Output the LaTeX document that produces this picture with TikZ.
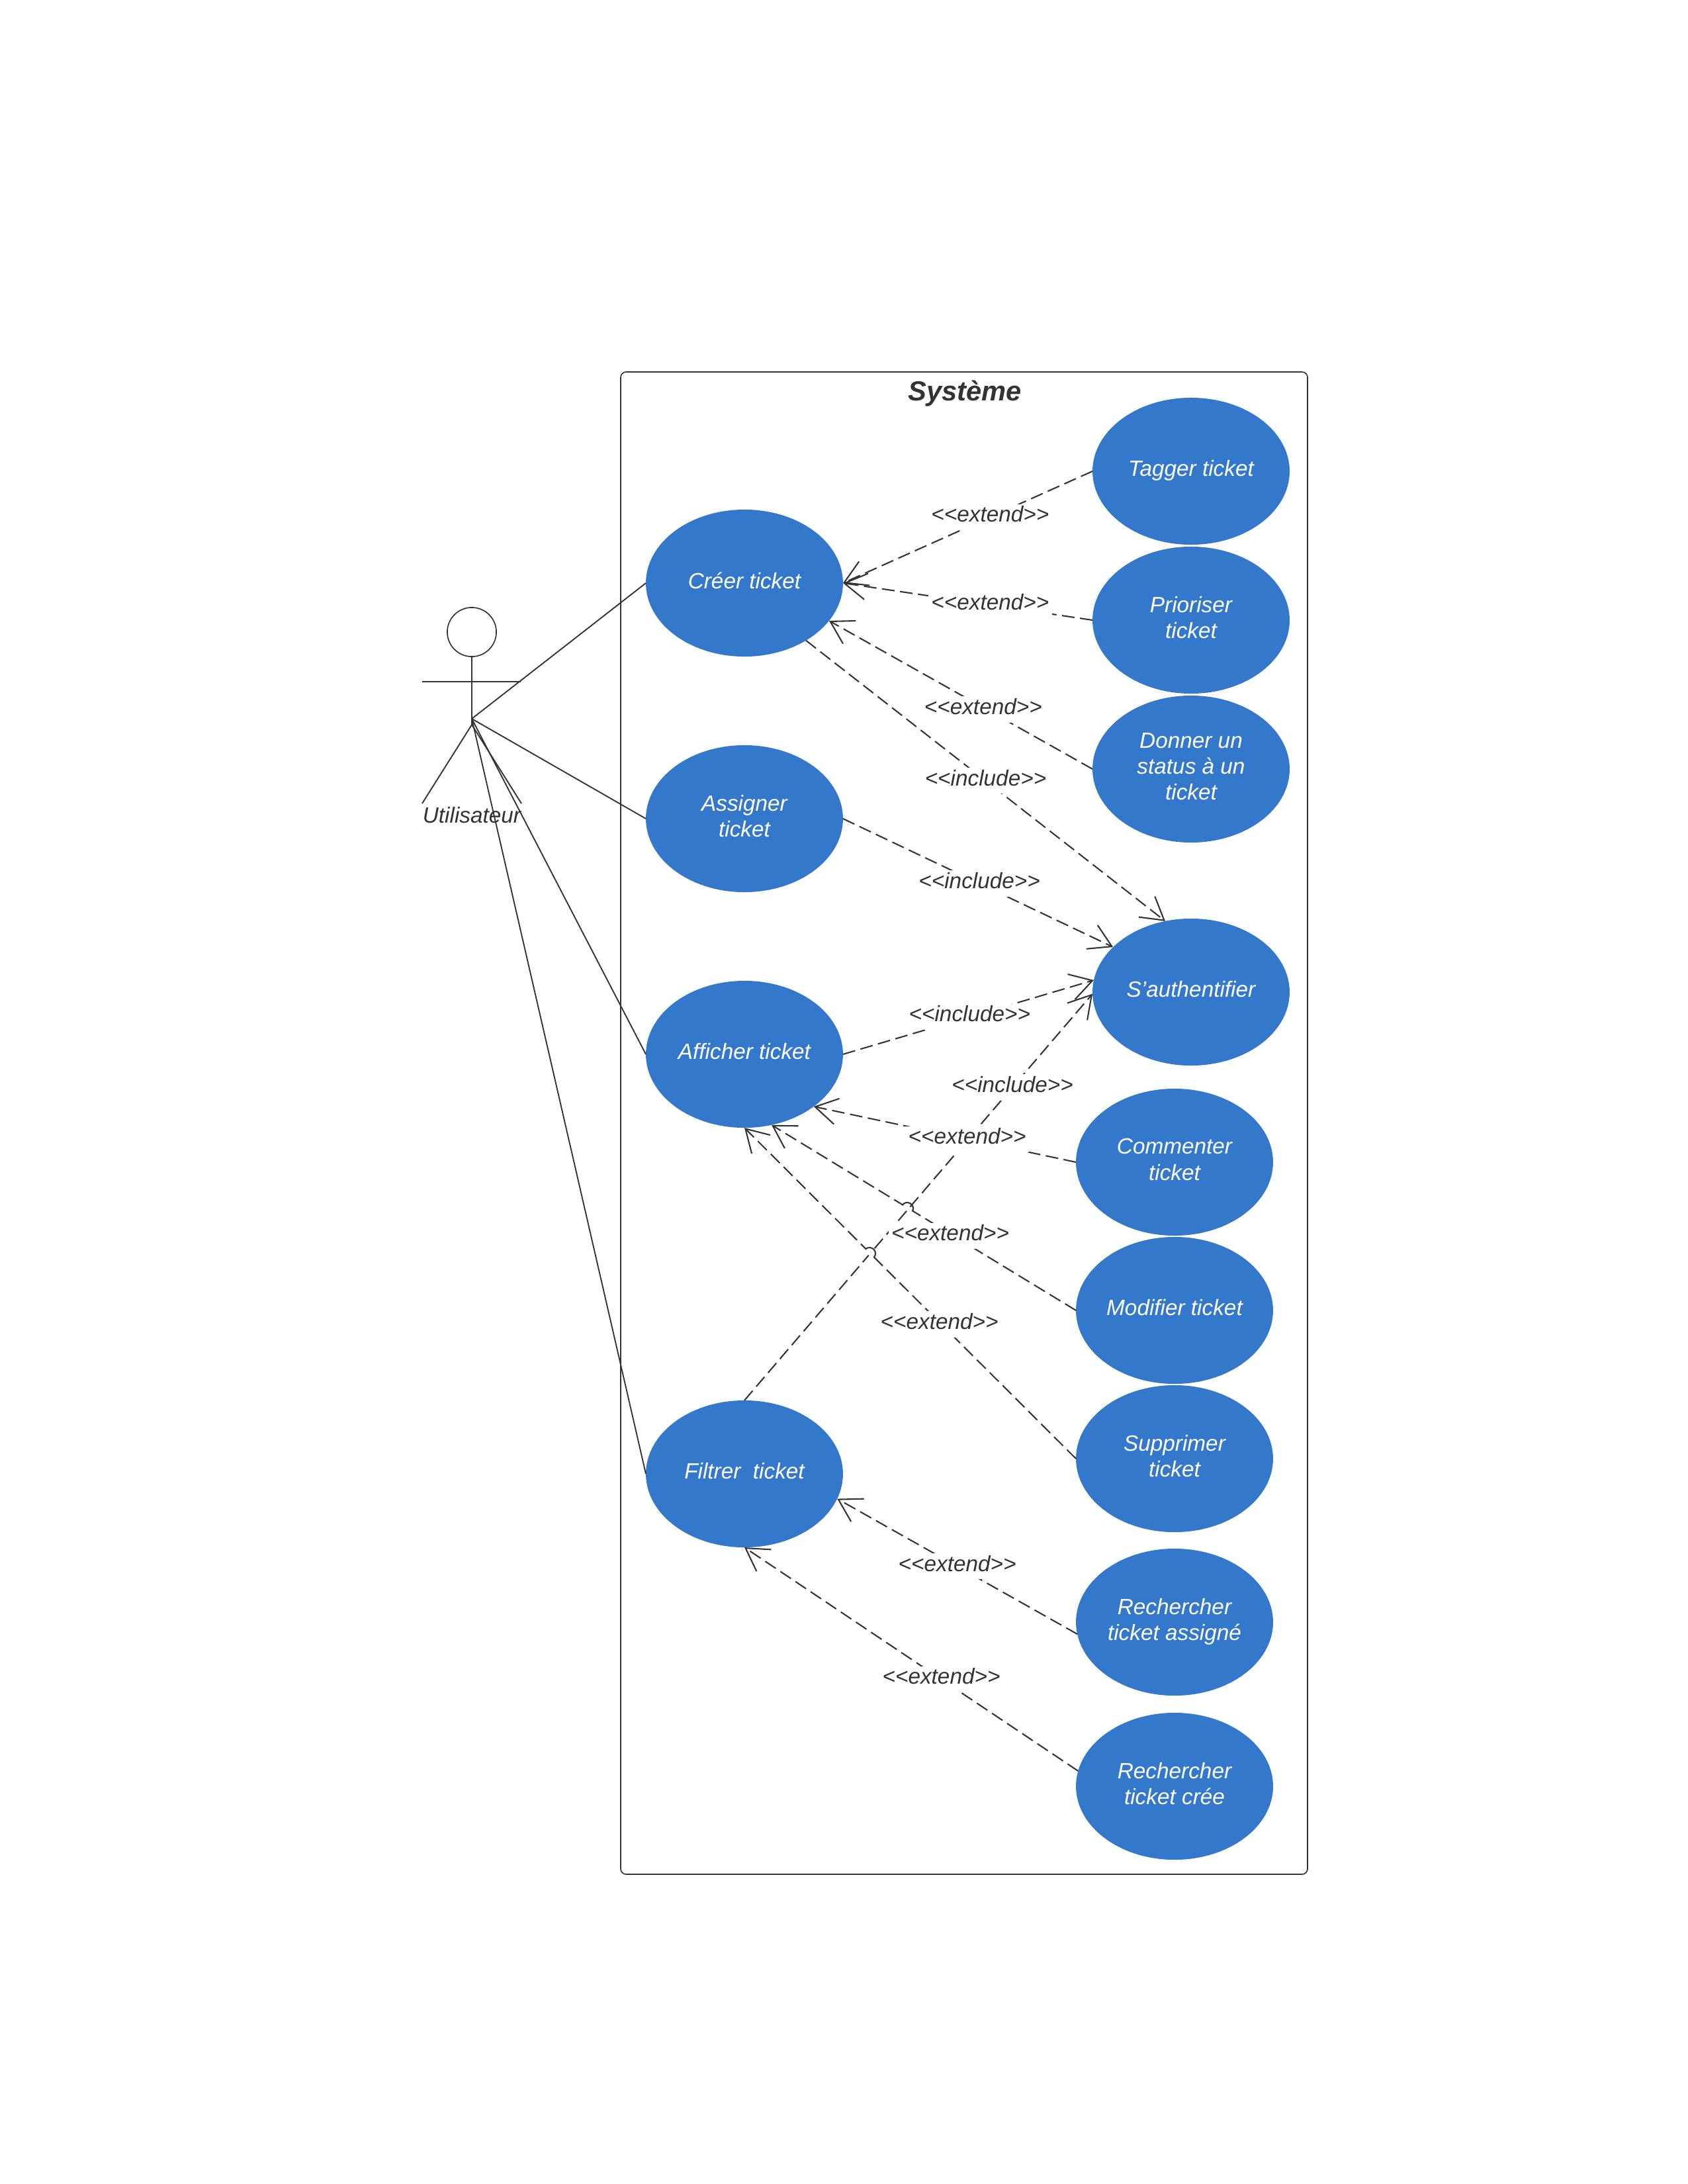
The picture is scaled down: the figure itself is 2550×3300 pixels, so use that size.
\documentclass[tikz,border=0pt]{standalone}
\usepackage{fontspec}
\setmainfont{Liberation Sans}
\usetikzlibrary{shapes.geometric,arrows.meta}
\definecolor{usecase}{HTML}{3478CC}
\definecolor{ink}{HTML}{333333}
\newcommand{\incl}{<{}<include>{}>}
\newcommand{\extd}{<{}<extend>{}>}
\tikzset{
  usecasenode/.style={ellipse,fill=usecase,text=white,minimum width=71.5pt,minimum height=53.3pt,inner sep=0pt,outer sep=0pt,align=center,text depth=2pt,font=\fontsize{8}{9.4}\selectfont\itshape},
  deplabel/.style={fill=white,text=ink,inner xsep=1pt,inner ysep=0pt,text height=6.5pt,text depth=2.9pt,font=\fontsize{8}{9.4}\selectfont\itshape},
  dep/.style={draw=ink,line width=.5pt,dash pattern=on 4.6pt off 2pt,-{Straight Barb[length=8pt,width=9.5pt,line width=.5pt]}},
  assoc/.style={draw=ink,line width=.45pt}
}
\begin{document}
\begin{tikzpicture}[x=.24pt,y=-.24pt]
\useasboundingbox (0,0) rectangle (2550,3300);

% system
\draw[ink,line width=.4pt,rounded corners=2pt] (938,562) rectangle (1976,2832);
\node[text=ink,font=\fontsize{10}{12}\selectfont\bfseries\itshape] (systeme) at (1458,595) {Système};

% actor
\node[draw=ink,line width=.4pt,circle,inner sep=0pt,minimum size=17.8pt] (tete) at (713,955) {};
\node[text=ink,font=\fontsize{8}{9.4}\selectfont\itshape] (utilisateur) at (713,1232) {Utilisateur};
\coordinate (hanche) at (713,1095);
\coordinate (acteur) at (713,1086);
\draw[assoc] (tete.south) -- (hanche);
\draw[assoc] (638,1030) -- (787,1030);
\draw[assoc] (hanche) -- (638,1214);
\draw[assoc] (hanche) -- (788,1214);

% left use cases
\node[usecasenode] (creer) at (1125,881) {Créer ticket};
\node[usecasenode] (assigner) at (1125,1237) {Assigner\\ticket};
\node[usecasenode] (afficher) at (1125,1593) {Afficher ticket};
\node[usecasenode] (filtrer) at (1125,2227) {Filtrer\ \ ticket};

% right use cases
\node[usecasenode] (tagger) at (1800,712) {Tagger ticket};
\node[usecasenode] (prioriser) at (1800,937) {Prioriser\\ticket};
\node[usecasenode] (donner) at (1800,1162) {Donner un\\status à un\\ticket};
\node[usecasenode] (auth) at (1800,1499) {S'authentifier};
\node[usecasenode] (commenter) at (1775,1756) {Commenter\\ticket};
\node[usecasenode] (modifier) at (1775,1980) {Modifier ticket};
\node[usecasenode] (supprimer) at (1775,2204) {Supprimer\\ticket};
\node[usecasenode] (assigne) at (1775,2451) {Rechercher\\ticket assigné};
\node[usecasenode] (cree) at (1775,2699) {Rechercher\\ticket crée};

% associations
\draw[assoc] (acteur) -- (creer.west);
\draw[assoc] (acteur) -- (assigner.west);
\draw[assoc] (acteur) -- (afficher.west);
\draw[assoc] (acteur) -- (filtrer.west);

% include
\draw[dep] (filtrer.north) -- node[deplabel,pos=.77] {\incl} (auth.181);
\draw[dep] (creer.-43) -- node[deplabel,pos=.5] {\incl} (auth.110);
\draw[dep] (assigner.east) -- node[deplabel,pos=.505] {\incl} (auth.150);
\draw[dep] (afficher.east) -- node[deplabel,pos=.505] {\incl} (auth.173);

% extend
\draw[dep] (tagger.west) -- node[deplabel,pos=.41] {\extd} (creer.east);
\draw[dep] (prioriser.west) -- node[deplabel,pos=.41] {\extd} (creer.east);
\draw[dep] (donner.west) -- node[deplabel,pos=.415,yshift=-.7pt] {\extd} (creer.-24);
\draw[dep] (commenter.west) -- node[deplabel,pos=.415] {\extd} (afficher.-37);
\draw[dep] (modifier.west) -- node[deplabel,pos=.413,yshift=-.7pt] {\extd} (afficher.-69);
\draw[dep] (supprimer.west) -- node[deplabel,pos=.412,yshift=-.7pt] {\extd} (afficher.south);
\draw[dep] (assigne.187) -- node[deplabel,pos=.5] {\extd} (filtrer.-15);
\draw[dep] (cree.171) -- node[deplabel,pos=.41] {\extd} (filtrer.south);

% line jumps
\foreach \cx/\cy/\ang in {1371/1826/-31,1314/1894/-45} {
  \draw[white,line width=1.2pt] (\cx,\cy) ++(\ang+180:2.16pt) -- ++(\ang:4.32pt);
  \draw[ink,line width=.5pt] (\cx,\cy) ++(\ang+180:2.16pt) arc[start angle=\ang+180,end angle=\ang,radius=2.16pt];
}
\end{tikzpicture}
\end{document}
